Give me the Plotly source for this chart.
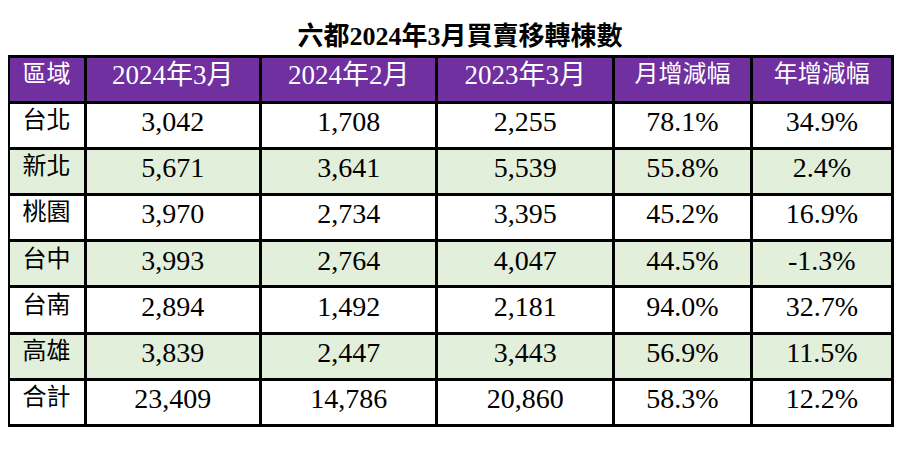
import plotly.graph_objects as go

title = "六都2024年3月買賣移轉棟數"
headers = ["區域", "2024年3月", "2024年2月", "2023年3月", "月增減幅", "年增減幅"]
regions = ["台北", "新北", "桃園", "台中", "台南", "高雄", "合計"]
mar_2024 = [3042, 5671, 3970, 3993, 2894, 3839, 23409]
feb_2024 = [1708, 3641, 2734, 2764, 1492, 2447, 14786]
mar_2023 = [2255, 5539, 3395, 4047, 2181, 3443, 20860]
mom_pct = [78.1, 55.8, 45.2, 44.5, 94.0, 56.9, 58.3]
yoy_pct = [34.9, 2.4, 16.9, -1.3, 32.7, 11.5, 12.2]

W, H = 904, 450
font_family = "Liberation Serif, Noto Sans CJK TC, serif"

row_fill = ["#FFFFFF" if i % 2 == 0 else "#E2EFDA" for i in range(len(regions))]

def fmt_int(v):
    return f"{v:,}"

def fmt_pct(v):
    return f"{v:.1f}%"

cols = [
    regions,
    [fmt_int(v) for v in mar_2024],
    [fmt_int(v) for v in feb_2024],
    [fmt_int(v) for v in mar_2023],
    [fmt_pct(v) for v in mom_pct],
    [fmt_pct(v) for v in yoy_pct],
]

col_widths = [77, 175, 176, 176, 138, 140]

left, right, top = 0, 884, 48
fig = go.Figure(go.Table(
    columnwidth=col_widths,
    domain=dict(x=[left / W, right / W], y=[0, 1 - top / H]),
    header=dict(
        values=headers,
        fill_color="#7030A0",
        line=dict(color="#000000", width=3),
        align="center",
        height=46,
        font=dict(family=font_family, size=[24, 27, 27, 27, 24, 24], color="#FFFFFF"),
    ),
    cells=dict(
        values=cols,
        fill_color=[row_fill] * len(cols),
        line=dict(color="#000000", width=3),
        align="center",
        height=46.2,
        font=dict(family=font_family, size=[24, 28, 28, 28, 28, 28], color="#000000"),
    ),
))

fig.update_layout(
    width=W, height=H,
    margin=dict(l=0, r=0, t=0, b=0),
    paper_bgcolor="#FFFFFF",
    title=dict(
        text="<b>" + title + "</b>",
        x=0.5, xanchor="center",
        y=1 - 28 / H, yanchor="middle", yref="container",
        font=dict(family=font_family, size=26, color="#000000"),
    ),
)

fig.write_html("out.html")
